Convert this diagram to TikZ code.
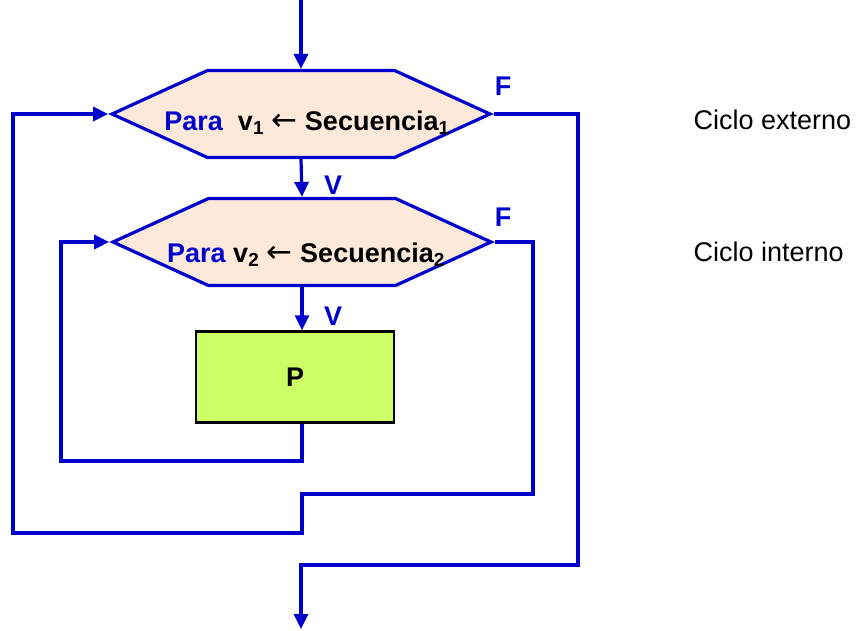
\documentclass[tikz,border=0pt]{standalone}
\usepackage{fontspec}
\setmainfont{Liberation Sans}
\newfontfamily\arrowfont{DejaVu Sans}
\usetikzlibrary{arrows.meta, positioning, shapes.symbols}
\definecolor{flowblue}{HTML}{0000CC}
\definecolor{hexfill}{HTML}{FCE9DA}
\definecolor{procfill}{HTML}{CCFF66}
\newcommand{\larr}{{\arrowfont\mdseries\fontsize{31}{32}\selectfont ←}}

\begin{document}
\begin{tikzpicture}[
  x=1pt, y=-1pt,
  hexa/.style={shape=signal, signal to=west and east, signal pointer angle=49,
               draw=flowblue, line width=3.2pt, fill=hexfill, inner sep=0pt,
               minimum width=378pt, minimum height=87pt,
               font=\bfseries\fontsize{27}{32}\selectfont},
  procbox/.style={draw=black, line width=2.5pt, fill=procfill,
                  minimum width=198pt, minimum height=91pt,
                  font=\bfseries\fontsize{27}{32}\selectfont},
  flow/.style={draw=flowblue, line width=3.2pt},
  arr/.style={flow, -{Triangle[length=15pt, width=14pt]}},
  tag/.style={font=\bfseries\fontsize{27}{32}\selectfont, text=flowblue},
  note/.style={font=\fontsize{27}{32}\selectfont, anchor=base west}
]
  \useasboundingbox (0,0) rectangle (858,630);

  % decisiones y proceso
  \node[hexa] (hexA) at (301,114) {\makebox[0pt]{\smash{\raisebox{-16pt}{%
    \hspace*{12pt}\textcolor{flowblue}{Para}\ \ v\textsubscript{1} \larr{} Secuencia\textsubscript{1}}}}};
  \node[hexa] (hexB) at (302,242) {\makebox[0pt]{\smash{\raisebox{-20pt}{%
    \hspace*{8pt}\textcolor{flowblue}{Para} v\textsubscript{2} \larr{} Secuencia\textsubscript{2}}}}};
  \node[procbox] (proc) at (295,377) {P};

  % etiquetas
  \node[tag] (fA) at (503,86) {F};
  \node[tag] (fB) at (503,217) {F};
  \node[tag] (vA) at (333,185) {V};
  \node[tag] (vB) at (333,316) {V};
  \node[note] (cycA) at (690,129) {Ciclo externo};
  \node[note] (cycB) at (690,261) {Ciclo interno};

  % puntos de paso
  \coordinate (entry)  at (301,0);
  \coordinate (innerL) at (61,461);
  \coordinate (innerR) at (533,494);
  \coordinate (outerJ) at (302,533);
  \coordinate (outerL) at (13,533);
  \coordinate (outerR) at (578,565);
  \coordinate (exit)   at (301,629);

  \draw[arr] (entry) -- (hexA.north);
  \draw[arr] (hexA.south) -- (hexB.north);
  \draw[arr] (hexB.south) -- (hexB.south |- proc.north);
  \draw[arr] (hexB.south |- proc.south) |- (innerL) |- (hexB.west);
  \draw[arr] (hexB.east) -| (innerR) -| (outerJ) -- (outerL) |- (hexA.west);
  \draw[arr] (hexA.east) -| (outerR) -| (exit);
\end{tikzpicture}
\end{document}
